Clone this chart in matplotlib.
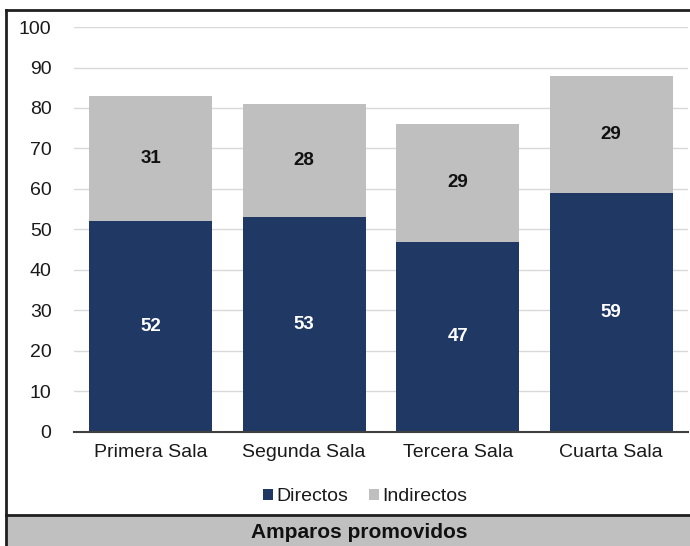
import matplotlib.pyplot as plt
from matplotlib.patches import Rectangle
from matplotlib.lines import Line2D
import numpy as np

plt.rcParams['font.family'] = ['Liberation Sans', 'DejaVu Sans']

salas = ['Primera Sala', 'Segunda Sala', 'Tercera Sala', 'Cuarta Sala']
directos = [52, 53, 47, 59]
indirectos = [31, 28, 29, 29]

azul = '#203864'
gris = '#BFBFBF'

fig = plt.figure(figsize=(6.9, 5.46), dpi=100)
ax = fig.add_axes([0.107, 0.209, 0.890, 0.7415])

x = np.arange(len(salas))
b1 = ax.bar(x, directos, width=0.8, color=azul, label='Directos', zorder=3)
b2 = ax.bar(x, indirectos, width=0.8, bottom=directos, color=gris, label='Indirectos', zorder=3)

for i in range(len(salas)):
    ax.text(x[i], directos[i] / 2, str(directos[i]), ha='center', va='center',
            color='white', fontsize=13.5, fontweight='bold', zorder=4)
    ax.text(x[i], directos[i] + indirectos[i] / 2, str(indirectos[i]), ha='center', va='center',
            color='#111111', fontsize=13.5, fontweight='bold', zorder=4)

ax.set_xlim(-0.5, 3.5)
ax.set_ylim(0, 100)
ax.set_yticks(range(0, 101, 10))
ax.set_xticks(x)
ax.set_xticklabels(salas, fontsize=14, color='#1a1a1a')
ax.tick_params(axis='y', labelsize=14, length=0, pad=16, labelcolor='#1a1a1a')
ax.tick_params(axis='x', length=0, pad=9)
ax.yaxis.grid(True, color='#D9D9D9', linewidth=1, zorder=0)
for s in ['top', 'right', 'left']:
    ax.spines[s].set_visible(False)
ax.spines['bottom'].set_color('#404040')
ax.spines['bottom'].set_linewidth(1.5)
ax.spines['bottom'].set_zorder(5)

fig.legend(handles=[b1, b2], loc='center', bbox_to_anchor=(0.529, 0.09), ncol=2,
           frameon=False, fontsize=14, handlelength=0.5, handleheight=0.5,
           handletextpad=0.15, columnspacing=1.1, labelcolor='#1a1a1a')

# marco y franja inferior
fig.patches.append(Rectangle((0.009, 0.0), 1.0, 0.0568, transform=fig.transFigure,
                             facecolor='#C0C0C0', edgecolor='none', zorder=0))
fig.lines.append(Line2D([0.009, 1.0], [0.0568, 0.0568], transform=fig.transFigure,
                        color='#202020', linewidth=2))
fig.lines.append(Line2D([0.009, 1.0], [0.982, 0.982], transform=fig.transFigure,
                        color='#202020', linewidth=2))
fig.lines.append(Line2D([0.009, 0.009], [0.0, 0.982], transform=fig.transFigure,
                        color='#202020', linewidth=2))
fig.text(0.52, 0.025, 'Amparos promovidos', ha='center', va='center',
         fontsize=15, fontweight='bold', color='#111111')

fig.savefig('out.png', dpi=100)
